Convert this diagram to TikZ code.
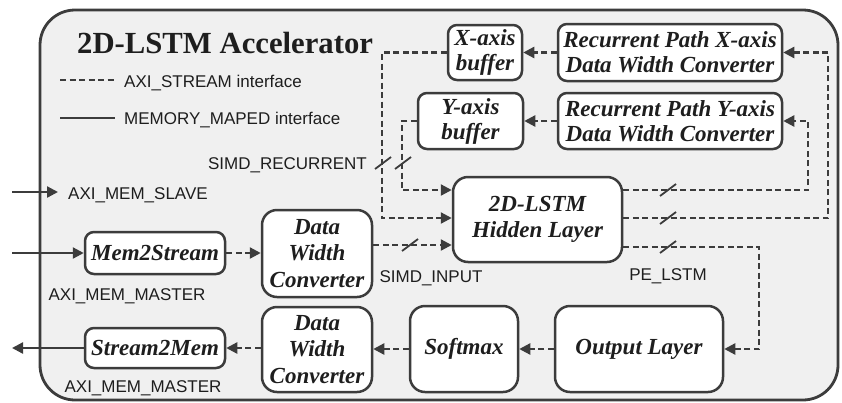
\documentclass[tikz,border=0pt]{standalone}
\usepackage{fontspec}
\setmainfont{Liberation Serif}
\setsansfont{Liberation Sans}
\usetikzlibrary{arrows.meta,calc}
\definecolor{lc}{HTML}{3C3C3C}
\definecolor{bg}{HTML}{F0F0F0}
\definecolor{tc}{HTML}{1E1E1E}
\newcommand\tickmark[1]{\draw[tick] ($(#1)+(-8,6)$) -- ($(#1)+(8,-6)$);}
\begin{document}
\begin{tikzpicture}[x=1pt,y=-1pt,
  box/.style={draw=lc, fill=white, line width=2.5pt, rounded corners=9pt, align=center, inner sep=0pt, font=\fontsize{23}{25}\selectfont\bfseries\itshape, text=tc},
  bigbox/.style={box, rounded corners=15pt, font=\fontsize{23}{26.5}\selectfont\bfseries\itshape},
  dl/.style={draw=lc, line width=2.3pt, dash pattern=on 6pt off 3.5pt, -{Triangle[length=11pt,width=11pt]}},
  sl/.style={draw=lc, line width=2.3pt, -{Triangle[length=11pt,width=11pt]}},
  lab/.style={font=\sffamily\fontsize{17}{19}\selectfont, text=tc, inner sep=0pt},
  tick/.style={draw=lc, line width=1.8pt}]
\useasboundingbox (0,0) rectangle (842,402);
\draw[lc, fill=bg, line width=2.8pt, rounded corners=35pt] (40,10) rectangle (838,400);

% title and legend
\node[anchor=base west, inner sep=0pt, font=\fontsize{30.7}{32}\selectfont\bfseries, text=tc] (title) at (77,53) {2D-LSTM Accelerator};
\coordinate (lg1a) at (60,80); \coordinate (lg1b) at (115,80);
\coordinate (lg2a) at (60,118); \coordinate (lg2b) at (115,118);
\draw[draw=lc, line width=2.3pt, dash pattern=on 6pt off 3.5pt] (lg1a) -- (lg1b);
\draw[draw=lc, line width=2.3pt] (lg2a) -- (lg2b);
\node[lab, anchor=base west] (lgt1) at (124,87) {AXI\_STREAM interface};
\node[lab, anchor=base west] (lgt2) at (124,124) {MEMORY\_MAPED interface};

% blocks
\node[box, minimum width=140pt, minimum height=42pt] (m2s) at (155,253) {Mem2Stream};
\node[box, minimum width=140pt, minimum height=40pt] (s2m) at (155,348) {Stream2Mem};
\node[bigbox, minimum width=110pt, minimum height=87pt] (dwc1) at (317,253.5) {Data\\Width\\Converter};
\node[bigbox, minimum width=110pt, minimum height=85pt] (dwc2) at (317,349.5) {Data\\Width\\Converter};
\node[bigbox, minimum width=108pt, minimum height=86pt] (soft) at (464,349) {Softmax};
\node[bigbox, minimum width=168pt, minimum height=86pt] (outl) at (639,349) {Output Layer};
\node[bigbox, minimum width=169pt, minimum height=85pt] (hid) at (537.5,219.5) {2D-LSTM\\Hidden Layer};
\node[box, minimum width=74pt, minimum height=55pt] (xb) at (485,52.5) {X-axis\\buffer};
\node[box, minimum width=105pt, minimum height=56pt] (yb) at (470.5,121) {Y-axis\\buffer};
\node[box, minimum width=224pt, minimum height=57pt] (rpx) at (670,52.5) {Recurrent Path X-axis\\Data Width Converter};
\node[box, minimum width=224pt, minimum height=56pt] (rpy) at (670,121) {Recurrent Path Y-axis\\Data Width Converter};

% external interfaces
\coordinate (slv) at (12,192); \coordinate (slvt) at (58,192);
\coordinate (in1) at (12,253); \coordinate (out1) at (12,348);
\draw[sl] (slv) -- (slvt);
\draw[sl] (in1) -- (m2s.west);
\draw[sl] (s2m.west) -- (out1);
\node[lab, anchor=base west] (slvl) at (68,199) {AXI\_MEM\_SLAVE};
\node[lab, anchor=base] (mm1) at (127,300) {AXI\_MEM\_MASTER};
\node[lab, anchor=base] (mm2) at (143,392) {AXI\_MEM\_MASTER};

% stream connections
\draw[dl] (m2s.east) -- (m2s.east -| dwc1.west);
\draw[dl] (dwc2.west |- s2m.east) -- (s2m.east);
\draw[dl] (soft.west) -- (soft.west -| dwc2.east);
\draw[dl] (outl.west) -- (outl.west -| soft.east);
\draw[dl] (rpx.west) -- (rpx.west -| xb.east);
\draw[dl] (rpy.west) -- (rpy.west -| yb.east);

% hidden layer inputs
\coordinate (hi1) at ([yshift=29.5pt]hid.west);
\coordinate (hi2) at ([yshift=1.5pt]hid.west);
\coordinate (hi3) at ([yshift=-25.5pt]hid.west);
\draw[dl] (yb.west) -- ++(-15,0) |- (hi1);
\draw[dl] (xb.west) -- ++(-65,0) |- (hi2);
\draw[dl] (dwc1.east |- hi3) -- (hi3);

% hidden layer outputs
\coordinate (ho1) at ([yshift=29.5pt]hid.east);
\coordinate (ho2) at ([yshift=1.5pt]hid.east);
\coordinate (ho3) at ([yshift=-27.5pt]hid.east);
\draw[dl] (ho1) -| ([xshift=25pt]rpy.east) -- (rpy.east);
\draw[dl] (ho2) -| ([xshift=45pt]rpx.east) -- (rpx.east);
\draw[dl] (ho3) -| ([xshift=35pt]outl.east) -- (outl.east);

% bus width marks
\coordinate (tk1) at (668,190); \coordinate (tk2) at (668,218);
\coordinate (tk3) at (668,247); \coordinate (tk4) at (410,245);
\coordinate (tk5) at (383,163); \coordinate (tk6) at (403,163);
\tickmark{tk1}\tickmark{tk2}\tickmark{tk3}\tickmark{tk4}\tickmark{tk5}\tickmark{tk6}

\node[lab, anchor=base east] (simdr) at (367,169) {SIMD\_RECURRENT};
\node[lab, anchor=base] (simdi) at (431,282) {SIMD\_INPUT};
\node[lab, anchor=base] (pel) at (668,280) {PE\_LSTM};
\end{tikzpicture}
\end{document}
